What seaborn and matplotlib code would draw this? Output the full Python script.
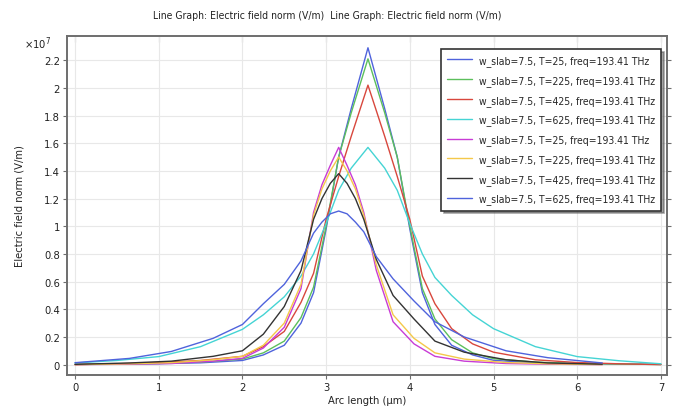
import numpy as np
import pandas as pd
import matplotlib
matplotlib.use("Agg")
import matplotlib.pyplot as plt
from matplotlib.ticker import MultipleLocator, FormatStrFormatter
import seaborn as sns

# ---------------- data (field norm in units of 1e7 V/m) ----------------
x_a = [0, 0.5, 1.0, 1.5, 2.0, 2.25, 2.5, 2.7, 2.85, 3.0, 3.15, 3.3, 3.5,
       3.7, 3.85, 4.0, 4.15, 4.3, 4.5, 4.75, 5.0, 5.5, 6.0, 6.5, 7.0]
blue_a = [0.002, 0.004, 0.007, 0.013, 0.03, 0.07, 0.14, 0.30, 0.52, 0.98, 1.50, 1.85, 2.29,
          1.85, 1.50, 0.98, 0.52, 0.29, 0.14, 0.07, 0.031, 0.013, 0.007, 0.004, 0.002]
green_a = [0.001, 0.004, 0.008, 0.018, 0.04, 0.085, 0.17, 0.34, 0.56, 1.0, 1.50, 1.82, 2.21,
           1.82, 1.50, 1.0, 0.55, 0.33, 0.18, 0.085, 0.043, 0.018, 0.008, 0.004, 0.001]
red_a = [0.0, 0.006, 0.015, 0.03, 0.06, 0.13, 0.24, 0.45, 0.66, 1.05, 1.36, 1.65, 2.02,
         1.65, 1.36, 1.05, 0.64, 0.44, 0.26, 0.15, 0.09, 0.035, 0.015, 0.006, 0.0]
cyan_a = [0.012, 0.03, 0.058, 0.13, 0.255, 0.36, 0.49, 0.64, 0.80, 1.02, 1.26, 1.42, 1.57,
          1.42, 1.26, 1.02, 0.80, 0.63, 0.50, 0.36, 0.26, 0.13, 0.058, 0.028, 0.006]

x_b = [0, 0.65, 1.15, 1.65, 2.0, 2.25, 2.5, 2.7, 2.85, 2.95, 3.05, 3.15,
       3.25, 3.35, 3.45, 3.6, 3.8, 4.05, 4.3, 4.65, 5.15, 5.65, 6.3]
magenta_b = [0.0, 0.003, 0.008, 0.025, 0.045, 0.12, 0.27, 0.55, 1.10, 1.30, 1.44, 1.57,
             1.44, 1.30, 1.10, 0.68, 0.31, 0.15, 0.06, 0.025, 0.008, 0.003, 0.0]
yellow_b = [0.0, 0.006, 0.014, 0.035, 0.06, 0.14, 0.30, 0.58, 1.08, 1.27, 1.40, 1.50,
            1.40, 1.27, 1.08, 0.72, 0.36, 0.19, 0.085, 0.04, 0.015, 0.006, 0.0]
black_b = [0.002, 0.012, 0.025, 0.06, 0.10, 0.22, 0.42, 0.68, 1.05, 1.20, 1.31, 1.38,
           1.31, 1.20, 1.05, 0.76, 0.50, 0.33, 0.17, 0.09, 0.035, 0.012, 0.003]
blue_b = [0.014, 0.045, 0.095, 0.19, 0.29, 0.44, 0.58, 0.75, 0.95, 1.03, 1.09, 1.11,
          1.09, 1.03, 0.96, 0.78, 0.62, 0.46, 0.31, 0.20, 0.10, 0.05, 0.012]

labels = ["w_slab=7.5, T=25, freq=193.41 THz",
          "w_slab=7.5, T=225, freq=193.41 THz",
          "w_slab=7.5, T=425, freq=193.41 THz",
          "w_slab=7.5, T=625, freq=193.41 THz",
          "w_slab=7.5, T=25, freq=193.41 THz",
          "w_slab=7.5, T=225, freq=193.41 THz",
          "w_slab=7.5, T=425, freq=193.41 THz",
          "w_slab=7.5, T=625, freq=193.41 THz"]

x_ticks = [0, 1, 2, 3, 4, 5, 6, 7]

series = [(x_a, blue_a, "#4f63dc"), (x_a, green_a, "#5cbf5c"),
          (x_a, red_a, "#d8473d"), (x_a, cyan_a, "#45d4d4"),
          (x_b, magenta_b, "#c83cd6"), (x_b, yellow_b, "#f4c84a"),
          (x_b, black_b, "#333333"), (x_b, blue_b, "#4f63dc")]

# ---------------- plot ----------------
sns.set_theme(style="white")
plt.rcParams["font.family"] = ["DejaVu Sans"]
plt.rcParams["font.stretch"] = "condensed"

fig = plt.figure(figsize=(6.76, 4.10), dpi=100)
ax = fig.add_axes([67 / 676, 1 - 376 / 410, 600 / 676, 339 / 410])

for i, (xs, ys, col) in enumerate(series):
    df = pd.DataFrame({"x": xs, "y": ys})
    sns.lineplot(data=df, x="x", y="y", color=col, lw=1.0, sort=False,
                 label=labels[i], ax=ax)

ax.set_xlim(-0.096, 7.073)
ax.set_ylim(-0.075, 2.375)
ax.set_xticks(x_ticks)
ax.yaxis.set_major_locator(MultipleLocator(0.2))
ax.yaxis.set_major_formatter(FormatStrFormatter("%g"))
ax.grid(True, color="#e8e8e8", lw=0.8)
for s in ax.spines.values():
    s.set_color("#6e6e6e")
    s.set_linewidth(1.4)
ax.tick_params(axis="both", direction="out", length=3, width=0.8, color="#6e6e6e",
               labelsize=8, labelcolor="#222222", pad=2,
               right=True, left=True, bottom=True)
sec = ax.secondary_xaxis("top")
sec.set_xticks(x_ticks)
sec.tick_params(direction="in", length=4, width=0.8, color="#6e6e6e", labeltop=False)
sec.spines["top"].set_visible(False)

ax.set_xlabel("Arc length (µm)", fontsize=8, color="#222222", labelpad=2)
ax.set_ylabel("Electric field norm (V/m)", fontsize=8, color="#222222", labelpad=14)
fig.text(327 / 676, 1 - 16 / 410,
         "Line Graph: Electric field norm (V/m)  Line Graph: Electric field norm (V/m)",
         ha="center", va="center", fontsize=7.5, color="#222222")
fig.text(24 / 676, 1 - 44 / 410, r"$\times10^{7}$", ha="left", va="center",
         fontsize=8, color="#222222")

leg = ax.legend(loc="upper right", bbox_to_anchor=(0.99, 0.962), borderaxespad=0,
                fontsize=7.5, frameon=True, fancybox=False, shadow=True,
                handlelength=2.4, handletextpad=0.6, labelspacing=0.85,
                borderpad=0.6)
leg.get_frame().set_edgecolor("#333333")
leg.get_frame().set_linewidth(1.2)
leg.get_frame().set_alpha(1)

fig.savefig("out.png", dpi=100, facecolor="white")
